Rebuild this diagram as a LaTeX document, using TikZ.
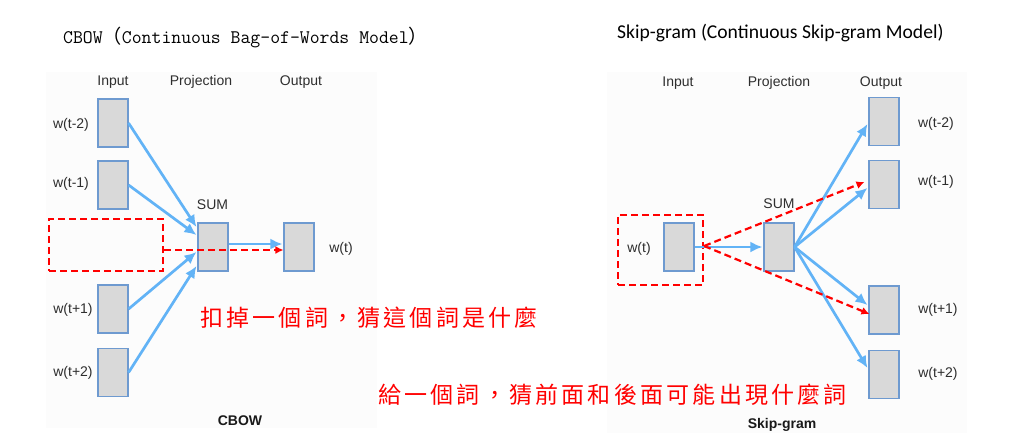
\documentclass[tikz,border=0pt]{standalone}
\usepackage{fontspec}
\setmainfont{Liberation Sans}
\newfontfamily\cjk{Noto Sans CJK TC}
\newfontfamily\cjkred[LetterSpace=14]{Noto Sans CJK TC}
\newfontfamily\carl{Carlito}
\usetikzlibrary{arrows.meta}
\definecolor{boxfill}{HTML}{D9D9D9}
\definecolor{boxline}{HTML}{6E9AD0}
\definecolor{arrblue}{HTML}{62B3F6}
\definecolor{myred}{HTML}{FF0000}
\definecolor{panelbg}{HTML}{FCFCFC}
\begin{document}
\begin{tikzpicture}[x=1pt,y=-1pt,
 wbox/.style={draw=boxline,fill=boxfill,line width=1.1pt,minimum width=30pt,minimum height=48pt,inner sep=0pt},
 lbl/.style={font=\fontsize{14}{16}\selectfont,text=black!82,inner sep=0pt},
 boldlbl/.style={font=\bfseries\fontsize{14}{16}\selectfont,text=black!90,inner sep=0pt},
 barrow/.style={draw=arrblue,line width=2.7pt,-{Latex[length=12pt,width=11pt]}},
 rarrow/.style={draw=myred,line width=2.2pt,dash pattern=on 7pt off 4pt,-{Latex[length=8pt,width=8pt]}},
 rbox/.style={draw=myred,line width=2.2pt,dash pattern=on 7pt off 4pt,inner sep=0pt},
 redtxt/.style={text=myred,font=\cjkred\fontsize{23}{26}\selectfont,inner sep=0pt,anchor=west},
]
\useasboundingbox (0,0) rectangle (1026,445);
\fill[white] (0,0) rectangle (1026,445);
\fill[panelbg] (46,72) rectangle (377,428);
\fill[panelbg] (607,72) rectangle (967,433);

% ---------- titles
\node[anchor=west,inner sep=0pt,font=\fontsize{19.2}{21}\selectfont] (t1) at (63,37)
  {\ttfamily CBOW{\cjk （}Continuous Bag-of-Words Model{\cjk ）}};
\node[anchor=west,inner sep=0pt,font=\carl\fontsize{19.6}{22}\selectfont] (t2) at (617,33)
  {Skip-gram (Continuous Skip-gram Model)};

% ---------- CBOW
\node[lbl] (hin1) at (113,82) {Input};
\node[lbl] (hpr1) at (201,82) {Projection};
\node[lbl] (hout1) at (301,82) {Output};

\node[wbox] (i1) at (113,123) {};
\node[wbox] (i2) at (113,185) {};
\node[wbox] (i4) at (113,309) {};
\node[wbox] (i5) at (113,372.5) {};
\node[wbox] (sum) at (213,247) {};
\node[wbox] (out) at (299,247) {};

\node[lbl] (li1) at (71,125) {w(t-2)};
\node[lbl] (li2) at (71,184) {w(t-1)};
\node[lbl] (li4) at (73,310) {w(t+1)};
\node[lbl] (li5) at (73,373) {w(t+2)};
\node[lbl] (lsum) at (212.5,205) {SUM};
\node[lbl] (lout) at (341,249) {w(t)};

\node[rbox,minimum width=114pt,minimum height=52pt] (miss) at (106,245) {};

\draw[barrow] (i1.east) -- ([xshift=-1pt,yshift=20pt]sum.west);
\draw[barrow] (i2.east) -- ([xshift=-1pt,yshift=12pt]sum.west);
\draw[barrow] (i4.east) -- ([xshift=-1pt,yshift=-5pt]sum.west);
\draw[barrow] (i5.east) -- ([xshift=-1pt,yshift=-19pt]sum.west);
\draw[barrow] ([yshift=3pt]sum.east) -- ([xshift=-1pt,yshift=3pt]out.west);
\draw[rarrow] ([yshift=-5pt]miss.east) -- ([yshift=-3pt]out.west);

\node[boldlbl] (cap1) at (240,421) {CBOW};

% ---------- Skip-gram
\node[lbl] (hin2) at (678,83) {Input};
\node[lbl] (hpr2) at (779,83) {Projection};
\node[lbl] (hout2) at (881,83) {Output};

\node[wbox] (win) at (679,247) {};
\node[wbox] (sum2) at (779,247) {};
\node[wbox] (o1) at (884,121.5) {};
\node[wbox] (o2) at (884,184.5) {};
\node[wbox] (o4) at (884,310) {};
\node[wbox] (o5) at (884,374.5) {};

\node[lbl] (lwin) at (639,249) {w(t)};
\node[lbl] (lsum2) at (779,204) {SUM};
\node[lbl] (lo1) at (936,124) {w(t-2)};
\node[lbl] (lo2) at (936,182) {w(t-1)};
\node[lbl] (lo4) at (938,310) {w(t+1)};
\node[lbl] (lo5) at (938,374) {w(t+2)};

\node[rbox,minimum width=85pt,minimum height=70pt] (given) at (660.5,250) {};

\draw[barrow] (win.east) -- ([xshift=-1pt]sum2.west);
\draw[barrow] (sum2.east) -- ([xshift=-1pt,yshift=-2.5pt]o1.west);
\draw[barrow] (sum2.east) -- ([xshift=-1pt,yshift=-3.5pt]o2.west);
\draw[barrow] (sum2.east) -- ([xshift=-1pt,yshift=5pt]o4.west);
\draw[barrow] (sum2.east) -- ([xshift=-1pt,yshift=6.5pt]o5.west);
\draw[rarrow] ([yshift=4pt]given.east) -- ([xshift=-4pt,yshift=2.5pt]o2.west);
\draw[rarrow] ([yshift=4pt]given.east) -- ([xshift=1pt,yshift=-4pt]o4.west);

\node[boldlbl] (cap2) at (782,425) {Skip-gram};

% ---------- red notes
\node[redtxt] (note1) at (200,318) {扣掉一個詞，猜這個詞是什麼};
\node[redtxt] (note2) at (378,395) {給一個詞，猜前面和後面可能出現什麼詞};
\end{tikzpicture}
\end{document}
